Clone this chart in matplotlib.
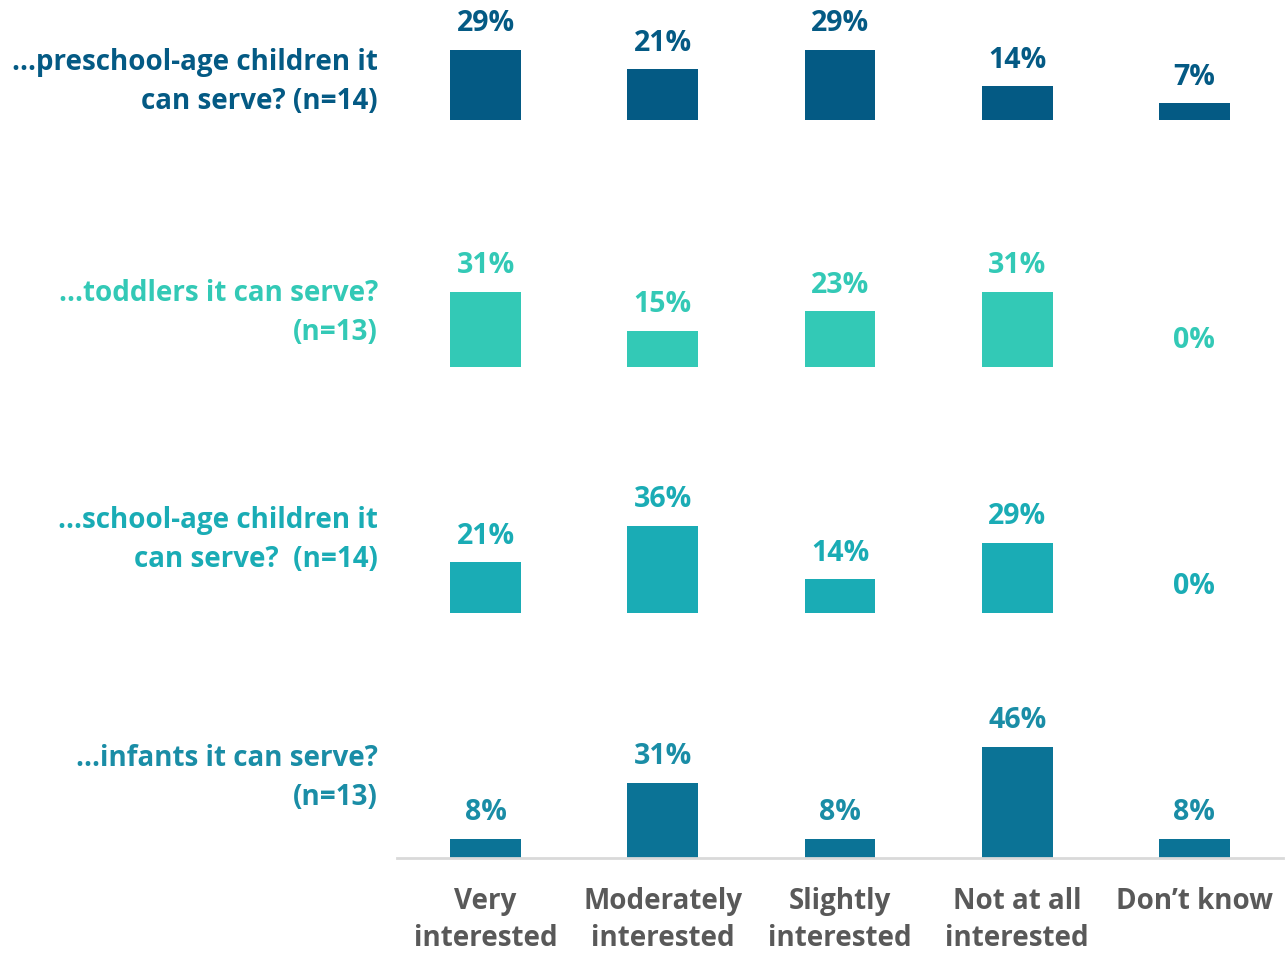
import matplotlib.pyplot as plt
import numpy as np

plt.rcParams['font.family'] = ['Open Sans', 'DejaVu Sans']

categorias = ['Very\ninterested', 'Moderately\ninterested', 'Slightly\ninterested',
              'Not at all\ninterested', 'Don\u2019t know']
linhas = ['...preschool-age children it\ncan serve? (n=14)',
          '...toddlers it can serve?\n(n=13)',
          '...school-age children it\ncan serve?  (n=14)',
          '...infants it can serve?\n(n=13)']
preschool = [29, 21, 29, 14, 7]
toddlers = [31, 15, 23, 31, 0]
school_age = [21, 36, 14, 29, 0]
infants = [8, 31, 8, 46, 8]
valores = [preschool, toddlers, school_age, infants]

cores_barra = ['#045A84', '#33C9B6', '#1AACB5', '#0B7396']
cores_texto = ['#045A84', '#33C9B6', '#1AACB5', '#1A8DA6']

W, H = 1288, 956
BASES = [120, 367, 613, 858]        # linha de base de cada painel (px do topo)
CENTRO_ROTULO = [82, 313, 540, 778]  # centro vertical do rotulo de linha
PX_POR_PCT = 2.42
ALT_EIXO = 130

fig = plt.figure(figsize=(W / 100, H / 100), dpi=100)
x = np.arange(len(categorias))

for i, vals in enumerate(valores):
    base = BASES[i]
    ax = fig.add_axes([397 / W, 1 - base / H, (1283 - 397) / W, ALT_EIXO / H])
    ax.bar(x, vals, width=0.4, color=cores_barra[i])
    ax.set_xlim(-0.5, 4.5)
    ax.set_ylim(0, ALT_EIXO / PX_POR_PCT)
    for xi, v in zip(x, vals):
        ax.text(xi, v + 26 / PX_POR_PCT, f'{v}%', ha='center', va='center',
                fontsize=20.5, fontweight='bold', color=cores_texto[i])
    for s in ax.spines.values():
        s.set_visible(False)
    ax.set_yticks([])
    if i == 3:
        ax.spines['bottom'].set_visible(True)
        ax.spines['bottom'].set_color('#D9D9D9')
        ax.spines['bottom'].set_linewidth(2)
        ax.set_xticks(x)
        ax.set_xticklabels(categorias, fontsize=20, fontweight='bold',
                           color='#595959', linespacing=1.36)
        ax.tick_params(axis='x', length=0, pad=21)
    else:
        ax.set_xticks([])
    fig.text(378 / W, 1 - CENTRO_ROTULO[i] / H, linhas[i], ha='right',
             va='center', fontsize=20, fontweight='bold',
             color=cores_texto[i], linespacing=1.45)

fig.savefig('out.png', dpi=100)
